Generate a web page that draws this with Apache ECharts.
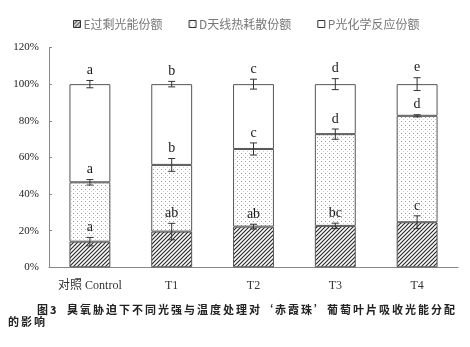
<!DOCTYPE html>
<html>
<head>
<meta charset="utf-8">
<script src="https://cdn.jsdelivr.net/npm/echarts@6/dist/echarts.min.js"></script>
<style>html,body{margin:0;padding:0;background:#fff}#c{width:470px;height:347px}</style>
</head>
<body>
<div id="c"></div>
<script>
// ---- data ----
const categories = ['对照 Control', 'T1', 'T2', 'T3', 'T4'];
const seriesNames = ['E过剩光能份额', 'D天线热耗散份额', 'P光化学反应份额'];
const valuesE = [14.0, 19.5, 22.2, 22.6, 24.6];
const valuesD = [32.4, 36.4, 42.4, 50.1, 58.1];
const valuesP = [53.6, 44.1, 35.4, 27.3, 17.3];
const errE = [2.3, 4.5, 1.3, 1.5, 3.5];
const errD = [1.5, 3.5, 3.3, 2.8, 0.6];
const errP = [2.0, 1.5, 2.7, 3.0, 3.5];
const lettersE = ['a', 'ab', 'ab', 'bc', 'c'];
const lettersD = ['a', 'b', 'c', 'd', 'd'];
const lettersP = ['a', 'b', 'c', 'd', 'e'];
const yTicks = [0, 20, 40, 60, 80, 100, 120];
const captionLine1 = '图3  臭氧胁迫下不同光强与温度处理对‘赤霞珠’葡萄叶片吸收光能分配';
const captionLine2 = '的影响';

// ---- patterns ----
function hatch() {
  const c = document.createElement('canvas'); c.width = 4; c.height = 4;
  const g = c.getContext('2d');
  g.fillStyle = '#fff'; g.fillRect(0, 0, 4, 4);
  g.strokeStyle = '#2a2a2a'; g.lineWidth = 1.2;
  g.beginPath();
  g.moveTo(-1, 5); g.lineTo(5, -1);
  g.moveTo(-1, 1); g.lineTo(1, -1);
  g.moveTo(3, 5); g.lineTo(5, 3);
  g.stroke();
  return c;
}
function dots() {
  const c = document.createElement('canvas'); c.width = 4; c.height = 4;
  const g = c.getContext('2d');
  g.fillStyle = '#fff'; g.fillRect(0, 0, 4, 4);
  g.fillStyle = '#9a9a9a'; g.fillRect(1, 1, 1, 1);
  g.fillStyle = '#d0d0d0'; g.fillRect(3, 3, 1, 1);
  return c;
}
const fills = [{ image: hatch(), repeat: 'repeat' }, { image: dots(), repeat: 'repeat' }, '#ffffff'];

// cumulative tops
const topE = valuesE.slice();
const topD = valuesD.map((v, i) => v + valuesE[i]);
const topP = valuesP.map((v, i) => v + topD[i]);

const serif = "'Liberation Serif', 'Noto Sans CJK SC', serif";

function errSeries(tops, errs, letters) {
  return {
    type: 'custom',
    z: 10,
    silent: true,
    data: tops.map((t, i) => [i, t, errs[i]]),
    renderItem: function (params, api) {
      const x = api.value(0), y = api.value(1), e = api.value(2);
      const hi = api.coord([x, y + e]);
      const lo = api.coord([x, y - e]);
      const cw = 3.5;
      const st = { stroke: '#333', lineWidth: 1 };
      return {
        type: 'group',
        children: [
          { type: 'line', shape: { x1: hi[0], y1: hi[1], x2: lo[0], y2: lo[1] }, style: st },
          { type: 'line', shape: { x1: hi[0] - cw, y1: hi[1], x2: hi[0] + cw, y2: hi[1] }, style: st },
          { type: 'line', shape: { x1: lo[0] - cw, y1: lo[1], x2: lo[0] + cw, y2: lo[1] }, style: st },
          { type: 'text', x: hi[0], y: hi[1] - 3,
            style: { text: letters[params.dataIndex], fill: '#1a1a1a', font: '14px ' + serif,
                     textAlign: 'center', textVerticalAlign: 'bottom' } }
        ]
      };
    }
  };
}

const vals = [valuesE, valuesD, valuesP];
const barSeries = seriesNames.map((n, k) => ({
  name: n, type: 'bar', stack: 'all', barWidth: '50%',
  data: vals[k],
  itemStyle: { color: fills[k], borderColor: '#555', borderWidth: 1 }
}));

// caption chars placed one by one for CJK spacing
const capEls = [];
(function () {
  let x = 37;
  for (const ch of captionLine1) {
    capEls.push({ type: 'text', x: x, y: 310, style: { text: ch, fill: '#222', font: 'bold 11px "Noto Sans CJK SC"', textVerticalAlign: 'middle' } });
    x += (ch === ' ') ? 5 : (ch === '3' ? 7 : 13);
  }
  x = 8;
  for (const ch of captionLine2) {
    capEls.push({ type: 'text', x: x, y: 322, style: { text: ch, fill: '#222', font: 'bold 11px "Noto Sans CJK SC"', textVerticalAlign: 'middle' } });
    x += 13;
  }
})();

const chart = echarts.init(document.getElementById('c'), null, { renderer: 'canvas' });
chart.setOption({
  animation: false,
  backgroundColor: '#fff',
  grid: { left: 49, right: 12, top: 47.5, bottom: 79.7 },
  legend: {
    data: seriesNames,
    left: 68, top: 13,
    itemWidth: 7, itemHeight: 7, itemGap: 26,
    icon: 'rect',
    textStyle: { fontFamily: "'Noto Sans CJK SC'", fontSize: 12, color: '#777', padding: [0, 0, 0, -2] },
    itemStyle: { borderColor: '#333', borderWidth: 1 }
  },
  xAxis: {
    type: 'category', data: categories,
    axisLine: { lineStyle: { color: '#888' } },
    axisTick: { inside: true, length: 3, lineStyle: { color: '#888' } },
    axisLabel: { interval: 0, margin: 13, fontSize: 12, fontFamily: serif, color: '#333' }
  },
  yAxis: {
    type: 'value', min: yTicks[0], max: yTicks[yTicks.length - 1], interval: 20,
    splitLine: { show: false },
    axisLine: { show: true, lineStyle: { color: '#888' } },
    axisTick: { show: true, inside: true, length: 3, lineStyle: { color: '#888' } },
    axisLabel: { formatter: '{value}%', margin: 10, fontSize: 11, fontFamily: serif, color: '#222' }
  },
  series: barSeries.concat([
    errSeries(topE, errE, lettersE),
    errSeries(topD, errD, lettersD),
    errSeries(topP, errP, lettersP)
  ]),
  graphic: capEls
});
</script>
</body>
</html>
